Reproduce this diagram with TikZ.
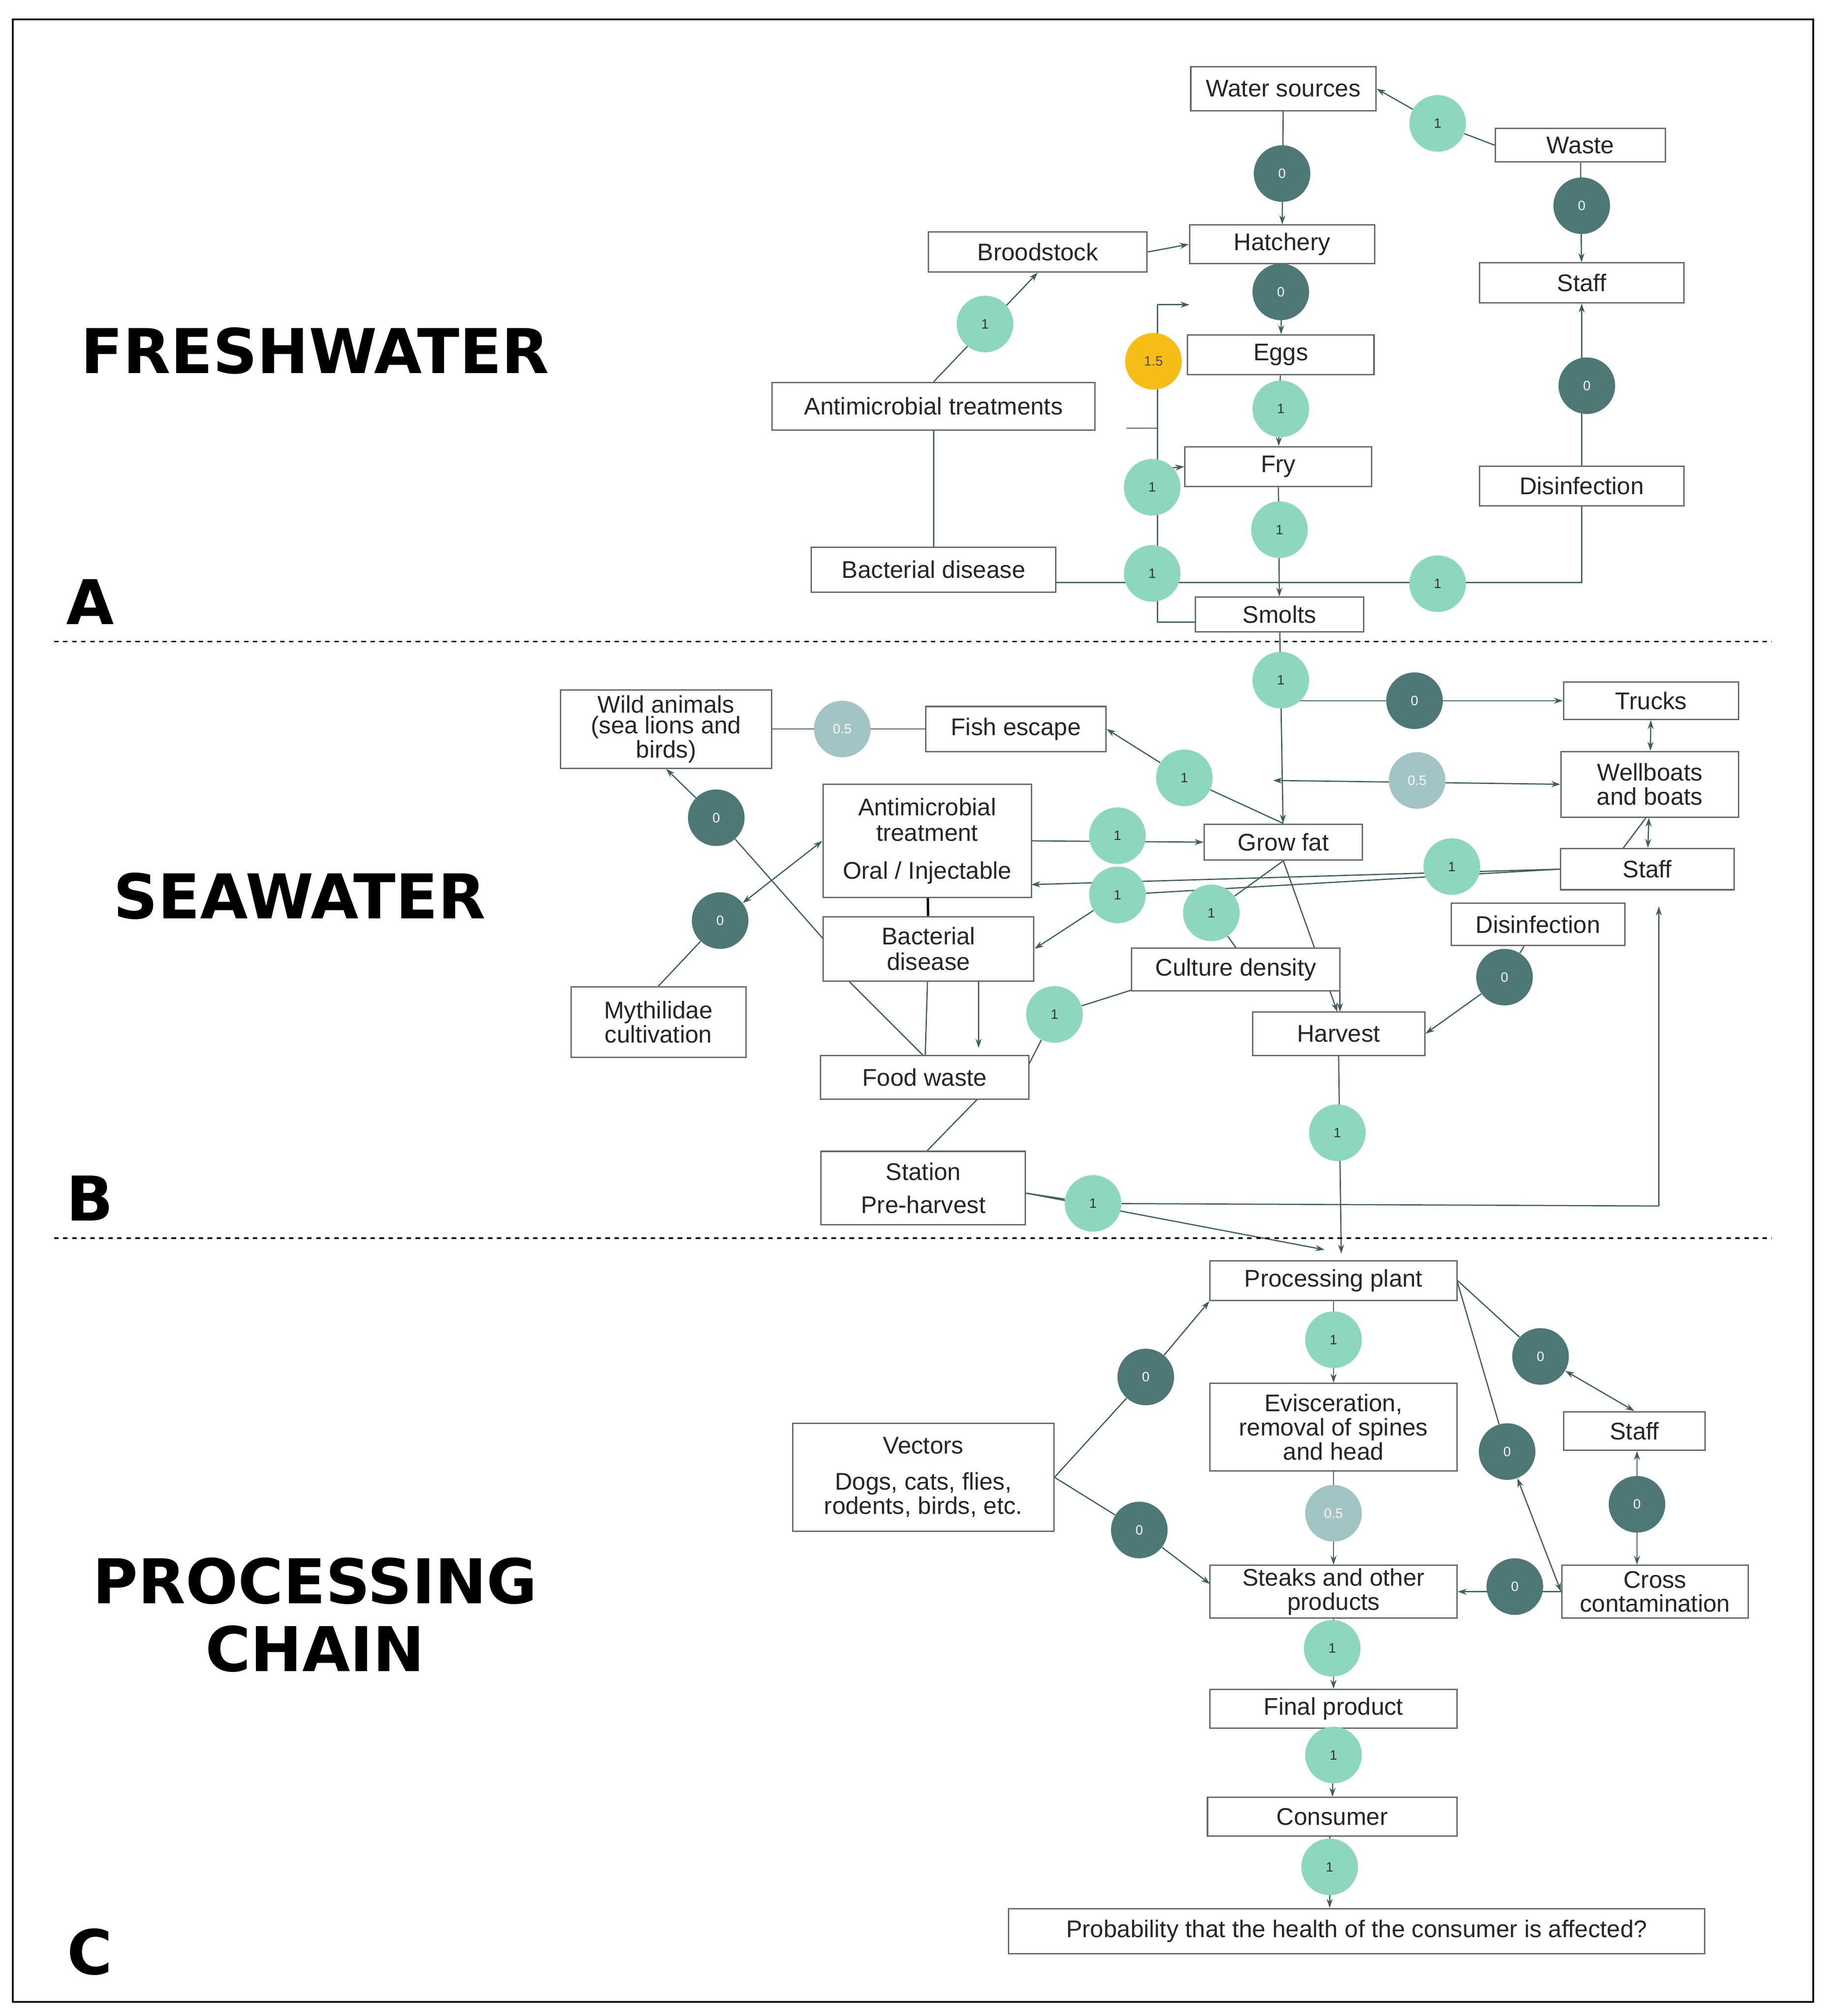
\documentclass[tikz,border=0pt]{standalone}
\usepackage{fontspec}
\setmainfont{Liberation Sans}
\newfontfamily\heavy{DejaVu Sans}
\usetikzlibrary{arrows.meta,backgrounds}
\definecolor{ln}{HTML}{3F5E5E}
\definecolor{dk}{HTML}{4E7875}
\definecolor{lt}{HTML}{8DD7BF}
\definecolor{gr}{HTML}{A3C4C4}
\definecolor{yl}{HTML}{F7BD17}
\tikzset{
 bx/.style={draw=gray!80!black,line width=0.9pt,fill=white,inner sep=1pt,align=center,font=\fontsize{16}{17}\selectfont,text=black!85},
 cc/.style={circle,minimum size=1.32cm,inner sep=0pt,font=\fontsize{9}{9}\selectfont},
 cd/.style={cc,fill=dk,text=white},
 cl/.style={cc,fill=lt,text=black!80},
 cg/.style={cc,fill=gr,text=white},
 cy/.style={cc,fill=yl,text=black!70},
 e/.style={draw=ln,line width=0.8pt},
 a/.style={e,-{Stealth[length=6pt,width=4pt]}},
 aa/.style={e,{Stealth[length=6pt,width=4pt]}-{Stealth[length=6pt,width=4pt]}},
 big/.style={font=\heavy\bfseries\fontsize{41}{47}\selectfont,align=center},
}
\begin{document}
\begin{tikzpicture}[x=0.03cm,y=-0.03cm]
\useasboundingbox (0,0) rectangle (1420,1568);
\draw[line width=1.2pt] (10,15) rectangle (1410,1557);
\draw[dashed,line width=0.9pt] (42,499) -- (1378,499);
\draw[dashed,line width=0.9pt] (42,963) -- (1378,963);
\node[big] (tA) at (245,273) {FRESHWATER};
\node[big] (tB) at (233,697) {SEAWATER};
\node[big] (tC) at (245,1256) {PROCESSING\\[-2pt]CHAIN};
\node[big] (lA) at (70,468) {A};
\node[big] (lB) at (70,932) {B};
\node[big] (lC) at (70,1518) {C};
% ---------- A
\node[bx,minimum width=4.32cm,minimum height=1.02cm] (ws) at (998,69) {Water sources};
\node[bx,minimum width=3.96cm,minimum height=0.78cm] (waste) at (1229,113) {Waste};
\node[bx,minimum width=5.1cm,minimum height=0.93cm] (brood) at (807,196) {Broodstock};
\node[bx,minimum width=4.32cm,minimum height=0.9cm] (hat) at (997,190) {Hatchery};
\node[bx,minimum width=4.77cm,minimum height=0.93cm] (staffA) at (1230,220) {Staff};
\node[bx,minimum width=4.35cm,minimum height=0.93cm] (eggs) at (996,276) {Eggs};
\node[bx,minimum width=7.53cm,minimum height=1.11cm] (amt) at (726,316) {Antimicrobial treatments};
\node[bx,minimum width=4.35cm,minimum height=0.93cm] (fry) at (994,363) {Fry};
\node[bx,minimum width=4.77cm,minimum height=0.93cm] (disA) at (1230,378) {Disinfection};
\node[bx,minimum width=5.7cm,minimum height=1.05cm] (bdA) at (726,443) {Bacterial disease};
\node[bx,minimum width=3.93cm,minimum height=0.81cm] (smolts) at (995,478) {Smolts};
\node[cl] (a1) at (1118,96) {1};
\node[cd] (a2) at (997,135) {0};
\node[cd] (a3) at (1230,160) {0};
\node[cd] (a4) at (996,227) {0};
\node[cl] (a5) at (766,252) {1};
\node[cy] (a6) at (897,281) {1.5};
\node[cl] (a7) at (996,318) {1};
\node[cd] (a8) at (1234,300) {0};
\node[cl] (a9) at (896,379) {1};
\node[cl] (a10) at (995,412) {1};
\node[cl] (a11) at (896,446) {1};
\node[cl] (a12) at (1118,454) {1};
% ---------- B
\node[bx,minimum width=4.92cm,minimum height=1.83cm,font=\fontsize{16}{14}\selectfont] (wild) at (518,567) {Wild animals\\(sea lions and\\birds)};
\node[bx,minimum width=4.2cm,minimum height=1.05cm] (fish) at (790,567) {Fish escape};
\node[bx,minimum width=4.08cm,minimum height=0.87cm] (trucks) at (1284,545) {Trucks};
\node[bx,minimum width=4.14cm,minimum height=1.53cm,font=\fontsize{16}{16}\selectfont] (well) at (1283,610) {Wellboats\\and boats};
\node[bx,minimum width=4.86cm,minimum height=2.64cm,font=\fontsize{16}{17}\selectfont] (amB) at (721,654) {Antimicrobial\\treatment\\[8pt]Oral / Injectable};
\node[bx,minimum width=3.69cm,minimum height=0.84cm] (grow) at (998,655) {Grow fat};
\node[bx,minimum width=4.05cm,minimum height=0.96cm] (staffB) at (1281,676) {Staff};
\node[bx,minimum width=4.05cm,minimum height=0.99cm] (disB) at (1196,719) {Disinfection};
\node[bx,minimum width=4.92cm,minimum height=1.5cm] (bdB) at (722,738) {Bacterial\\disease};
\node[bx,minimum width=4.86cm,minimum height=0.99cm] (cult) at (961,754) {Culture density};
\node[bx,minimum width=4.08cm,minimum height=1.65cm,font=\fontsize{16}{16}\selectfont] (myth) at (512,795) {Mythilidae\\cultivation};
\node[bx,minimum width=4.02cm,minimum height=1.02cm] (harv) at (1041,804) {Harvest};
\node[bx,minimum width=4.86cm,minimum height=1.02cm] (food) at (719,838) {Food waste};
\node[bx,minimum width=4.77cm,minimum height=1.71cm,font=\fontsize{16}{22}\selectfont] (stat) at (718,924) {Station\\Pre-harvest};
\node[cg] (b1) at (655,567) {0.5};
\node[cl] (b2) at (996,529) {1};
\node[cd] (b3) at (1100,545) {0};
\node[cg] (b4) at (1102,607) {0.5};
\node[cl] (b5) at (921,605) {1};
\node[cd] (b6) at (557,636) {0};
\node[cl] (b7) at (869,650) {1};
\node[cl] (b8) at (1129,674) {1};
\node[cl] (b9) at (869,696) {1};
\node[cl] (b10) at (942,710) {1};
\node[cd] (b11) at (560,716) {0};
\node[cd] (b12) at (1170,760) {0};
\node[cl] (b13) at (820,789) {1};
\node[cl] (b14) at (1040,881) {1};
\node[cl] (b15) at (850,936) {1};
% ---------- C
\node[bx,minimum width=5.76cm,minimum height=0.93cm] (proc) at (1037,996) {Processing plant};
\node[bx,minimum width=5.76cm,minimum height=2.04cm,font=\fontsize{16}{16}\selectfont] (evis) at (1037,1110) {Evisceration,\\removal of spines\\and head};
\node[bx,minimum width=3.3cm,minimum height=0.9cm] (staffC) at (1271,1113) {Staff};
\node[bx,minimum width=6.09cm,minimum height=2.52cm,font=\fontsize{16}{16}\selectfont] (vec) at (718,1149) {Vectors\\[8pt]Dogs, cats, flies,\\rodents, birds, etc.};
\node[bx,minimum width=5.76cm,minimum height=1.23cm,font=\fontsize{16}{16}\selectfont] (steak) at (1037,1238) {Steaks and other\\products};
\node[bx,minimum width=4.35cm,minimum height=1.23cm,font=\fontsize{16}{16}\selectfont] (cross) at (1287,1238) {Cross\\contamination};
\node[bx,minimum width=5.76cm,minimum height=0.9cm] (final) at (1037,1329) {Final product};
\node[bx,minimum width=5.82cm,minimum height=0.9cm] (cons) at (1036,1413) {Consumer};
\node[bx,minimum width=16.23cm,minimum height=1.05cm] (prob) at (1055,1502) {Probability that the health of the consumer is affected?};
\node[cl] (c1) at (1037,1042) {1};
\node[cd] (c2) at (891,1071) {0};
\node[cd] (c3) at (1198,1055) {0};
\node[cd] (c4) at (1172,1129) {0};
\node[cg] (c5) at (1037,1177) {0.5};
\node[cd] (c6) at (886,1190) {0};
\node[cd] (c7) at (1273,1170) {0};
\node[cd] (c8) at (1178,1234) {0};
\node[cl] (c9) at (1036,1282) {1};
\node[cl] (c10) at (1037,1365) {1};
\node[cl] (c11) at (1034,1452) {1};
\begin{scope}[on background layer]
% A
\draw[e] (waste.west) -- (a1);
\draw[a] (a1) -- (ws.east);
\draw[a] (ws) -- (hat);
\draw[a] (waste) -- (staffA);
\draw[a] (brood.east) -- (hat.west);
\draw[a] (amt.north) -- (brood.south);
\draw[a] (hat) -- (eggs);
\draw[a] (eggs) -- (fry);
\draw[a] (fry) -- (smolts);
\draw[a] (disA) -- (staffA);
\draw[e] (amt) -- (bdA);
\coordinate (vt) at (900,237);
\coordinate (vb) at (900,484);
\coordinate (vtk) at (876,333);
\coordinate (hb) at (821,453);
\draw[e] (smolts.west|-vb) -- (vb) -- (vt);
\draw[a] (vt) -- (925,237);
\draw[e] (vtk) -- (900,333);
\draw[a] (900,365) -- (fry.west);
\draw[e] (hb) -- (hb-|disA) -- (disA.south);
% B
\draw[e] (wild) -- (fish);
\draw[a] (smolts) -- (grow);
\draw[a] (996,545) -- (trucks.west);
\draw[aa] (990,607) -- (well.west);
\draw[aa] (trucks) -- (well);
\draw[aa] (well) -- (staffB);
\draw[e] (1262,660) -- (1280,636);
\draw[e] (grow.north) -- (b5);
\draw[a] (b5) -- (fish.east);
\draw[e] (640,730) -- (b6);
\draw[a] (b6) -- (wild.south);
\draw[aa] (myth.north) -- (b11) -- (amB.west);
\draw[a] (amB.east) -- (grow.west);
\draw[a] (staffB.west) -- (802,688);
\draw[e] (staffB.west) -- (b9);
\draw[a] (b9) -- (bdB.east);
\draw[e] (grow.south) -- (b10) -- (cult.north);
\draw[a] (grow.south) -- (1040,787);
\draw[a] (1042,771) -- (1042,787);
\draw[e] (880,770) -- (b13) -- (800,828);
\draw[line width=1.6pt] (amB) -- (bdB);
\draw[e] (bdB) -- (food);
\draw[a] (761,763) -- (761,815);
\draw[e] (660,763) -- (718,821);
\draw[e] (760,855) -- (720,896);
\draw[a] (disB) -- (b12) -- (harv.east);
\draw[a] (harv.south) -- (1043,975);
\draw[e] (798,928) -- (b15) -- (1290,938);
\draw[a] (1290,938) -- (1290,705);
\draw[a] (798,928) -- (1030,972);
% C
\draw[a] (vec.east) -- (c2) -- (proc.south west);
\draw[a] (vec.east) -- (c6) -- (941,1232);
\draw[a] (proc) -- (evis);
\draw[a] (evis) -- (steak);
\draw[aa] (proc.east) -- (c3) -- (staffC.north);
\draw[aa] (1133,996) -- (c4) -- (cross.west);
\draw[aa] (staffC.south-|c7) -- (cross.north-|c7);
\draw[a] (cross.west) -- (steak.east);
\draw[a] (steak) -- (final);
\draw[a] (final) -- (cons);
\draw[a] (cons.south-|c11) -- (prob.north-|c11);
\end{scope}
\end{tikzpicture}
\end{document}
